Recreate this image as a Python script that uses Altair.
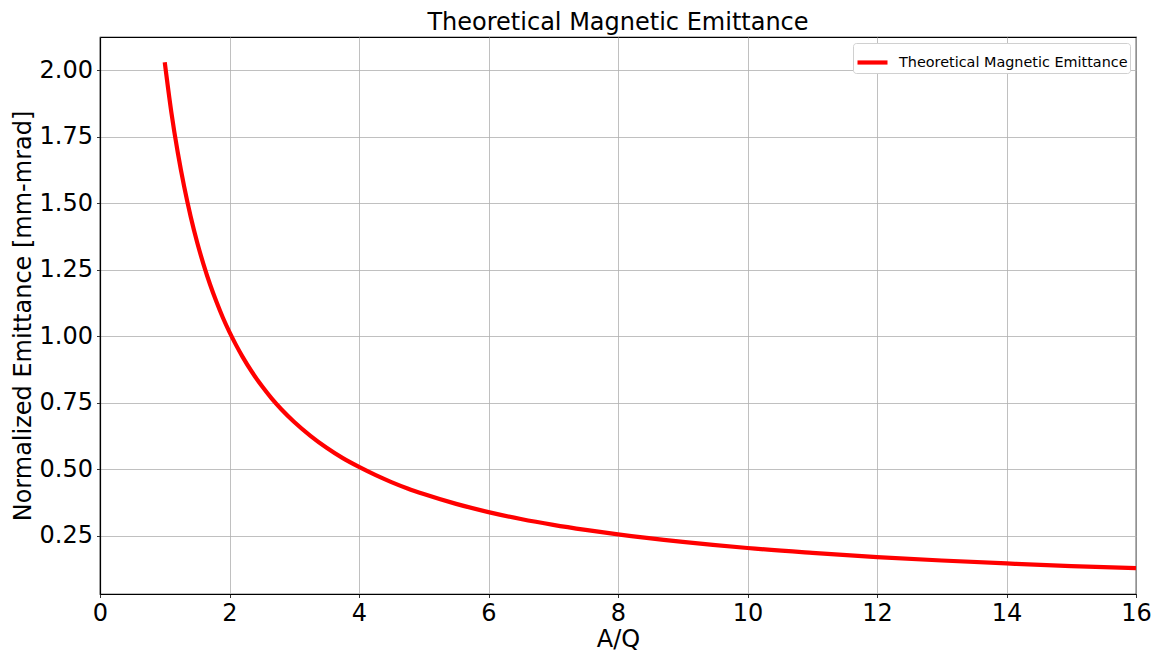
import altair as alt
import pandas as pd

aq = [1.0, 1.1, 1.2, 1.3, 1.4, 1.5, 1.6, 1.7, 1.8, 1.9, 2.0, 2.1, 2.2, 2.35, 2.5,
      2.65, 2.8, 3.0, 3.25, 3.5, 3.75, 4.0, 4.25, 4.5, 4.75, 5.0, 5.5, 6.0, 6.5,
      7.0, 7.5, 8.0, 9.0, 10.0, 11.0, 12.0, 13.0, 14.0, 15.0, 16.0]
emit = [2.03, 1.845, 1.692, 1.562, 1.45, 1.353, 1.269, 1.194, 1.128, 1.068, 1.015,
        0.967, 0.923, 0.864, 0.812, 0.766, 0.725, 0.677, 0.625, 0.58, 0.541, 0.508,
        0.478, 0.451, 0.427, 0.406, 0.369, 0.338, 0.312, 0.29, 0.271, 0.254, 0.226,
        0.203, 0.185, 0.169, 0.156, 0.145, 0.135, 0.127]
series = "Theoretical Magnetic Emittance"

df = pd.DataFrame({"aq": aq, "emit": emit, "series": [series] * len(aq)})

font = "DejaVu Sans"

chart = alt.Chart(df).mark_line(strokeWidth=4.2, interpolate="monotone").encode(
    x=alt.X("aq:Q", title="A/Q",
            scale=alt.Scale(domain=[0, 16], nice=False, zero=False),
            axis=alt.Axis(values=list(range(0, 17, 2)), format="d", labelFlush=False)),
    y=alt.Y("emit:Q", title="Normalized Emittance [mm-mrad]",
            scale=alt.Scale(domain=[0.03, 2.125], nice=False, zero=False),
            axis=alt.Axis(values=[0.25, 0.5, 0.75, 1.0, 1.25, 1.5, 1.75, 2.0], format=".2f",
                          labelFlush=False)),
    color=alt.Color("series:N", scale=alt.Scale(range=["#ff0000"]),
                    legend=alt.Legend(title=None, orient="top-right", symbolType="stroke",
                                      symbolStrokeWidth=4.2, symbolSize=900,
                                      labelFont=font, labelFontSize=14.4, labelColor="black",
                                      labelLimit=400, labelOffset=9,
                                      fillColor="white", strokeColor="#d0d0d0",
                                      cornerRadius=3, padding=2, offset=6)),
).properties(
    width=1036, height=557,
    title=alt.TitleParams(text="Theoretical Magnetic Emittance", font=font, fontSize=24,
                          fontWeight="normal", color="black", offset=2),
    autosize=alt.AutoSizeParams(type="none"),
    padding={"left": 100, "top": 37, "right": 22, "bottom": 60},
).configure_view(
    stroke="black", strokeWidth=1.2
).configure_axis(
    labelFont=font, labelFontSize=24, labelColor="black",
    titleFont=font, titleFontSize=24, titleColor="black", titleFontWeight="normal",
    gridColor="#b0b0b0", gridWidth=0.8, domainColor="black", domainWidth=1.2,
    tickColor="#333333", tickSize=3.5, labelPadding=4,
).configure_axisY(titlePadding=4).configure_axisX(titlePadding=2)

chart.save("out.html", embed_options={"renderer": "svg", "actions": False})
